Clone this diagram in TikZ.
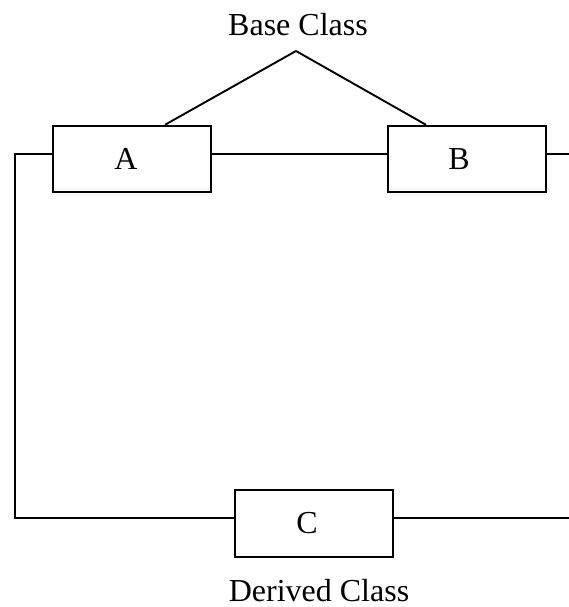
\documentclass[tikz,border=0pt]{standalone}
\usepackage{fontspec}
\setmainfont{Liberation Serif}
\begin{document}
\begin{tikzpicture}[x=1pt,y=-1pt,
  classbox/.style={draw, line width=2.4pt, rectangle, minimum width=158pt, minimum height=66pt, inner sep=0pt},
  conn/.style={line width=1.9pt},
  txt/.style={font=\fontsize{32}{38}\selectfont, inner sep=0pt}]
\useasboundingbox (0,0) rectangle (568,607);
\node[classbox, label={[txt, xshift=-6pt]center:A}] (A) at (132,159) {};
\node[classbox, label={[txt, xshift=-8pt]center:B}] (B) at (467,159) {};
\node[classbox, minimum height=67pt, label={[txt, xshift=-7pt]center:C}] (C) at (314,523.5) {};
\node[txt, anchor=base] (base) at (298,36) {Base Class};
\node[txt, anchor=base] (derived) at (319,601) {Derived Class};
\coordinate (apex) at (296,51);
\coordinate (LT) at (15,154);
\coordinate (LB) at (15,518);
\coordinate (RT) at (569.8,154);
\coordinate (RB) at (569.8,518);
\draw[conn] (apex) -- ([xshift=33pt]A.north);
\draw[conn] (apex) -- ([xshift=-41pt]B.north);
\draw[conn] ([yshift=5pt]A.east) -- ([yshift=5pt]B.west);
\draw[conn] ([yshift=5pt]A.west) -- (LT) -- (LB) -- ([yshift=5.5pt]C.west);
\draw[conn] ([yshift=5.5pt]C.east) -- (RB) -- (RT) -- ([yshift=5pt]B.east);
\end{tikzpicture}
\end{document}
